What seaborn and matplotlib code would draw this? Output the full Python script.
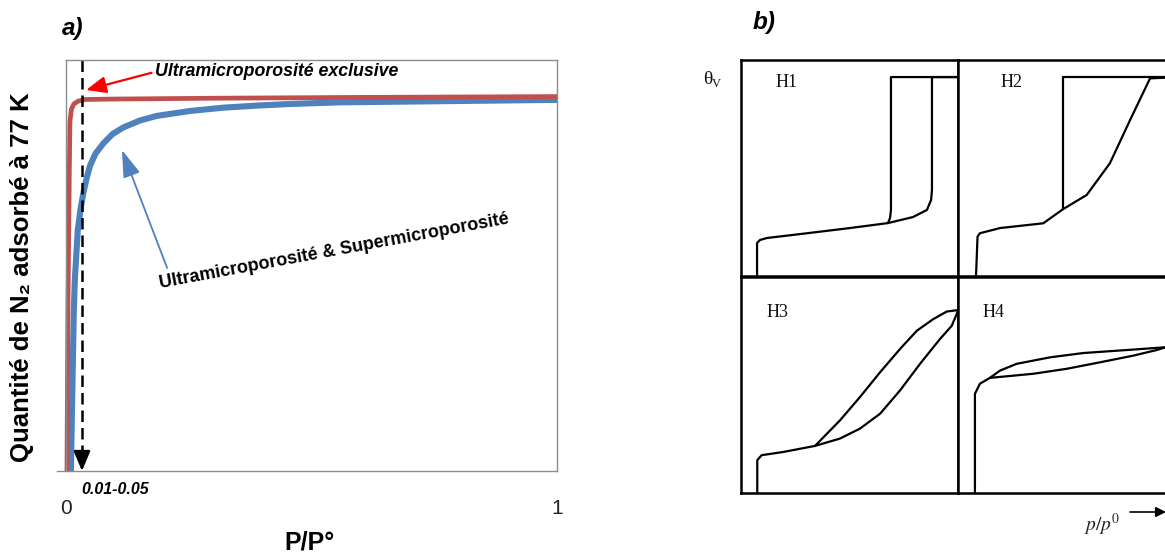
import numpy as np
import pandas as pd
import matplotlib
matplotlib.use("Agg")
import matplotlib.pyplot as plt
from matplotlib.patches import FancyArrowPatch
import seaborn as sns

# ---------------- Panel a data ----------------
pp_red = [0.002, 0.004, 0.007, 0.008, 0.011, 0.016, 0.025, 0.04, 0.1, 0.3, 0.6, 1.0]
q_red = [0.0, 0.40, 0.75, 0.85, 0.88, 0.893, 0.900, 0.904, 0.905, 0.907, 0.909, 0.911]
pp_blue = [0.010, 0.013, 0.016, 0.018, 0.024, 0.030, 0.036, 0.042, 0.049, 0.060, 0.076,
           0.095, 0.117, 0.151, 0.185, 0.253, 0.320, 0.388, 0.456, 0.558, 0.78, 1.0]
q_blue = [0.0, 0.20, 0.392, 0.465, 0.586, 0.640, 0.680, 0.712, 0.743, 0.772, 0.797,
          0.820, 0.836, 0.853, 0.864, 0.876, 0.884, 0.889, 0.893, 0.897, 0.900, 0.903]
x_ticks = [0, 1]
x_tick_labels = ["0", "1"]
marker_pp = 0.0326
marker_label = "0.01-0.05"
label_red = "Ultramicroporosité exclusive"
label_blue = "Ultramicroporosité & Supermicroporosité"

# ---------------- Panel b data (normalised) ----------------
h1_ads_x = [0.074, 0.074, 0.088, 0.120, 0.272, 0.502, 0.677, 0.793, 0.857, 0.876, 0.880, 0.880, 1.0]
h1_ads_y = [0.0, 0.153, 0.167, 0.176, 0.194, 0.222, 0.245, 0.273, 0.306, 0.352, 0.398, 0.921, 0.921]
h1_des_x = [1.0, 0.691, 0.691, 0.687, 0.677]
h1_des_y = [0.921, 0.921, 0.306, 0.269, 0.245]

h2_ads_x = [0.083, 0.090, 0.101, 0.194, 0.393, 0.485, 0.593, 0.700, 0.793, 0.885, 1.0]
h2_ads_y = [0.0, 0.182, 0.198, 0.222, 0.244, 0.310, 0.375, 0.522, 0.722, 0.915, 0.920]
h2_des_x = [1.0, 0.484, 0.484]
h2_des_y = [0.920, 0.920, 0.310]

h3_ads_x = [0.075, 0.075, 0.095, 0.195, 0.341, 0.456, 0.548, 0.641, 0.733, 0.825, 0.917, 0.971, 0.994, 1.0]
h3_ads_y = [0.0, 0.152, 0.175, 0.190, 0.218, 0.252, 0.298, 0.367, 0.475, 0.598, 0.713, 0.774, 0.828, 0.847]
h3_des_x = [1.0, 0.948, 0.886, 0.810, 0.733, 0.641, 0.548, 0.456, 0.341]
h3_des_y = [0.847, 0.840, 0.805, 0.751, 0.667, 0.559, 0.444, 0.336, 0.218]

h4_ads_x = [0.078, 0.078, 0.101, 0.147, 0.347, 0.501, 0.654, 0.808, 0.916, 0.954]
h4_ads_y = [0.0, 0.459, 0.506, 0.533, 0.552, 0.575, 0.605, 0.636, 0.662, 0.674]
h4_des_x = [0.954, 0.946, 0.808, 0.577, 0.424, 0.270, 0.194, 0.147]
h4_des_y = [0.674, 0.674, 0.664, 0.648, 0.628, 0.598, 0.567, 0.533]

panel_b_cells = [
    ("H1", h1_ads_x, h1_ads_y, h1_des_x, h1_des_y),
    ("H2", h2_ads_x, h2_ads_y, h2_des_x, h2_des_y),
    ("H3", h3_ads_x, h3_ads_y, h3_des_x, h3_des_y),
    ("H4", h4_ads_x, h4_ads_y, h4_des_x, h4_des_y),
]

# ---------------- Figure ----------------
sns.set_theme(style="white")
plt.rcParams["font.family"] = ["Liberation Sans", "DejaVu Sans"]
plt.rcParams["mathtext.fontset"] = "stix"
plt.rcParams["text.color"] = "black"

W, H = 1165, 556
fig = plt.figure(figsize=(W / 100, H / 100), dpi=100)


def fx(px):
    return px / W


def fy(py):
    return 1 - py / H


RED = "#C0504D"
BLUE = "#4F81BD"
GRAY = "#8c8c8c"

# ---- panel a ----
ax = fig.add_axes([fx(57), fy(471), (557 - 57) / W, (471 - 60) / H])
ax.set_xlim(-0.0183, 1.0)
ax.set_ylim(0, 1)
sns.lineplot(x=pp_blue, y=q_blue, ax=ax, color=BLUE, lw=4.4, sort=False,
             estimator=None, legend=False, solid_capstyle="butt")
sns.lineplot(x=pp_red, y=q_red, ax=ax, color=RED, lw=3.4, sort=False,
             estimator=None, legend=False, solid_capstyle="butt")
for s in ax.spines.values():
    s.set_color(GRAY)
    s.set_linewidth(1.0)
ax.spines["left"].set_position(("data", 0))
ax.spines["top"].set_bounds(0, 1)
ax.set_yticks([])
ax.set_xticks(x_ticks)
ax.set_xticklabels(x_tick_labels)
ax.tick_params(axis="x", length=0, pad=20, labelsize=15, labelcolor="#222222")
ax.set_xlabel("")
ax.set_ylabel("")

# dashed marker line with arrow head
ax.plot([marker_pp, marker_pp], [1.0, 0.03], color="black", lw=1.8,
        dashes=(4.6, 2.4))
ax.annotate("", xy=(marker_pp, 0.0), xytext=(marker_pp, 0.04),
            arrowprops=dict(arrowstyle="-|>,head_width=0.42,head_length=1.0",
                            color="black", lw=1.8, shrinkA=0, shrinkB=0))
ax.text(marker_pp - 0.002, -0.046, marker_label, transform=ax.get_xaxis_transform(),
        ha="left", va="center", fontsize=11.5, fontweight="bold", style="italic")

# red annotation
ax.annotate(label_red, xy=(0.041, 0.927), xytext=(0.181, 0.971),
            ha="left", va="center", fontsize=12.8, fontweight="bold", style="italic",
            arrowprops=dict(arrowstyle="-|>,head_width=0.4,head_length=0.95",
                            color="#FF0000", lw=1.6, shrinkA=0, shrinkB=0,
                            relpos=(0, 0.5)))
# blue annotation
ax.annotate("", xy=(0.114, 0.781), xytext=(0.206, 0.494),
            arrowprops=dict(arrowstyle="-|>,head_width=0.45,head_length=1.4",
                            color=BLUE, lw=1.3, shrinkA=0, shrinkB=0))
ax.text(0.547, 0.535, label_blue, ha="center", va="center", rotation=10.5,
        rotation_mode="anchor", fontsize=13, fontweight="bold")

fig.text(fx(22), fy(277), "Quantité de N₂ adsorbé à 77 K", rotation=90,
         ha="center", va="center", fontsize=18.5, fontweight="bold")
fig.text(fx(310), fy(543), "P/P°", ha="center", va="center", fontsize=18,
         fontweight="bold")
fig.text(fx(73), fy(28), "a)", ha="center", va="center", fontsize=17.5,
         fontweight="bold", style="italic")
fig.text(fx(764), fy(22), "b)", ha="center", va="center", fontsize=17.5,
         fontweight="bold", style="italic")

# ---- panel b ----
cell_w = 217 / W
cell_h = 216 / H
lefts = [741, 958, 741, 958]
bottoms = [276, 276, 493, 493]
label_pos = [(0.161, 0.898), (0.194, 0.898), (0.118, 0.836), (0.114, 0.836)]
for (name, ax_x, ax_y, ds_x, ds_y), L, B, lp in zip(panel_b_cells, lefts, bottoms, label_pos):
    axb = fig.add_axes([fx(L), fy(B), cell_w, cell_h])
    axb.set_xlim(0, 1)
    axb.set_ylim(0, 1)
    sns.lineplot(x=ax_x, y=ax_y, ax=axb, color="black", lw=1.6, sort=False,
                 estimator=None, legend=False)
    sns.lineplot(x=ds_x, y=ds_y, ax=axb, color="black", lw=1.6, sort=False,
                 estimator=None, legend=False)
    axb.set_xticks([])
    axb.set_yticks([])
    axb.set_xlabel("")
    axb.set_ylabel("")
    for s in axb.spines.values():
        s.set_color("black")
        s.set_linewidth(1.8)
    axb.text(lp[0], lp[1], name, transform=axb.transAxes, ha="left", va="center",
             fontsize=13, family="Liberation Serif", color="#111111")

fig.text(fx(712), fy(80), "θ", ha="right", va="center", fontsize=14,
         family="Liberation Serif", color="#111111")
fig.text(fx(712), fy(84), "V", ha="left", va="center", fontsize=9,
         family="Liberation Serif", color="#111111")
fig.text(fx(1102), fy(525), r"$p/p^{0}$", ha="center", va="center",
         fontsize=14, color="#222222")
arr = FancyArrowPatch((fx(1130), fy(512)), (fx(1166), fy(512)),
                      transform=fig.transFigure,
                      arrowstyle="-|>,head_width=3,head_length=6",
                      color="black", lw=1.2, shrinkA=0, shrinkB=0)
fig.add_artist(arr)

fig.savefig("out.png", dpi=100)
